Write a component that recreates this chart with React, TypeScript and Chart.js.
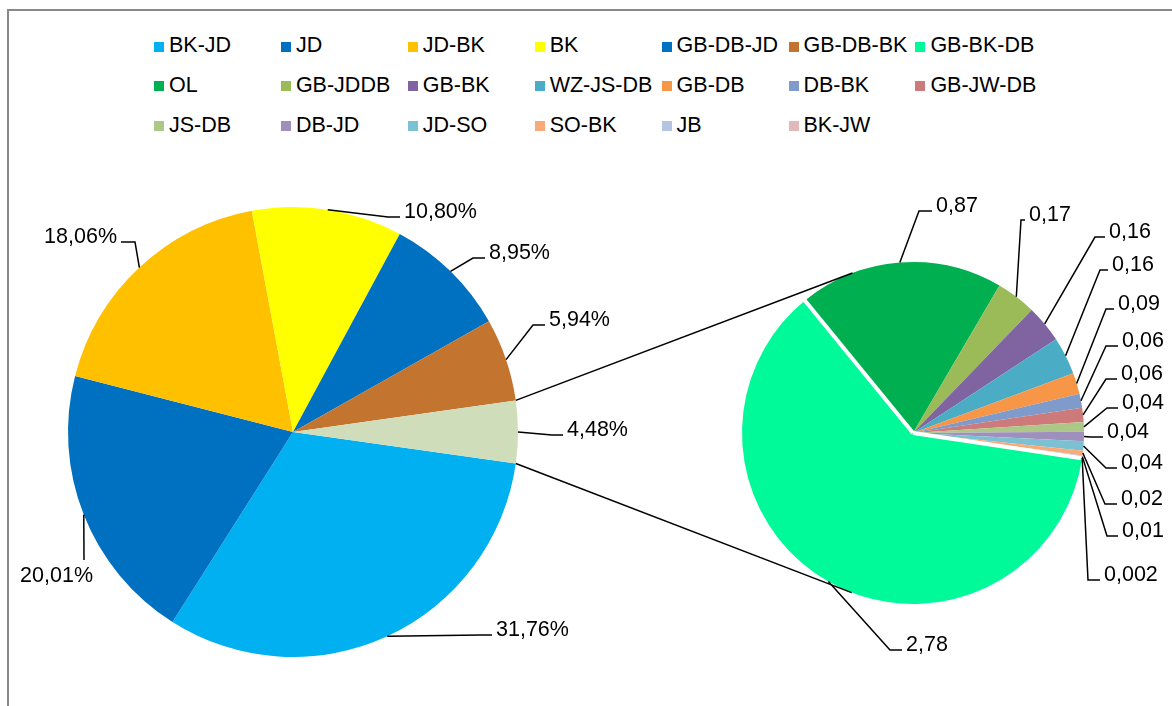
import React, { useEffect, useRef } from "react";
import { Chart, registerables } from "chart.js";
Chart.register(...registerables);

// ---- data ----
const mainCategories = ["BK-JD", "JD", "JD-BK", "BK", "GB-DB-JD", "GB-DB-BK", "Other"];
const mainValues = [31.76, 20.01, 18.06, 10.8, 8.95, 5.94, 4.48];
const mainColors = ["#00B0F0", "#0070C0", "#FFC000", "#FFFF00", "#0070C0", "#C3752F", "#D0DDBA"];

const subCategories = ["GB-BK-DB", "OL", "GB-JDDB", "GB-BK", "WZ-JS-DB", "GB-DB", "DB-BK", "GB-JW-DB", "JS-DB", "DB-JD", "JD-SO", "SO-BK", "JB", "BK-JW"];
const subValues = [2.78, 0.87, 0.17, 0.16, 0.16, 0.09, 0.06, 0.06, 0.04, 0.04, 0.04, 0.02, 0.01, 0.002];
const subColors = ["#00FA9A", "#00B050", "#9BBB59", "#8064A2", "#4BACC6", "#F79646", "#7E9BCB", "#CC7A7A", "#ADC886", "#9E8FBD", "#7CC0D4", "#F8AB78", "#B5C4E1", "#E2B9BA"];

const mainLabelTexts = mainValues.map((v) => v.toFixed(2).replace(".", ",") + "%");
const subLabelTexts = subValues.map((v) => String(v).replace(".", ","));

// ---- layout (label elbows relative to pie centre) ----
type LL = { dx: number; dy: number; side: "left" | "right" | "below"; h: number };
const mainLabelLayout: LL[] = [
  { dx: 188, dy: 203, side: "right", h: 11 },
  { dx: -209, dy: 128, side: "below", h: 9 },
  { dx: -158, dy: -190, side: "left", h: 14 },
  { dx: 95, dy: -215, side: "right", h: 12 },
  { dx: 180, dy: -174, side: "right", h: 12 },
  { dx: 240, dy: -107, side: "right", h: 12 },
  { dx: 259, dy: 3, side: "right", h: 11 },
];
const subLabelLayout: LL[] = [
  { dx: -23, dy: 217, side: "right", h: 12 },
  { dx: 6, dy: -222, side: "right", h: 13 },
  { dx: 108, dy: -213, side: "right", h: 4 },
  { dx: 182, dy: -196, side: "right", h: 10 },
  { dx: 187, dy: -163, side: "right", h: 8 },
  { dx: 193, dy: -124, side: "right", h: 8 },
  { dx: 193, dy: -87, side: "right", h: 12 },
  { dx: 193, dy: -54, side: "right", h: 11 },
  { dx: 194, dy: -25, side: "right", h: 11 },
  { dx: 177, dy: 4, side: "right", h: 13 },
  { dx: 193, dy: 35, side: "right", h: 11 },
  { dx: 192, dy: 71, side: "right", h: 12 },
  { dx: 194, dy: 103, side: "right", h: 11 },
  { dx: 175, dy: 147, side: "right", h: 12 },
];

const FONT_PX = 21.5;
const FONT = `${FONT_PX}px "Liberation Sans", Arial, sans-serif`;
const W = 1172;
const H = 706;

const legendItems = [
  ...mainCategories.slice(0, 6).map((c, i) => ({ label: c, color: mainColors[i] })),
  ...subCategories.map((c, i) => ({ label: c, color: subColors[i] })),
];

function drawLabels(chart: any, layout: LL[], texts: string[]) {
  const ctx = chart.ctx as CanvasRenderingContext2D;
  const arcs = chart.getDatasetMeta(0).data;
  ctx.save();
  ctx.strokeStyle = "#000";
  ctx.fillStyle = "#000";
  ctx.lineWidth = 1.5;
  ctx.font = FONT;
  arcs.forEach((arc: any, i: number) => {
    const L = layout[i];
    if (!L) return;
    const { x, y, startAngle, endAngle, outerRadius } = arc.getProps(["x", "y", "startAngle", "endAngle", "outerRadius"], true);
    const mid = (startAngle + endAngle) / 2;
    const ex = x + Math.cos(mid) * outerRadius;
    const ey = y + Math.sin(mid) * outerRadius;
    const bx = x + L.dx;
    const by = y + L.dy;
    ctx.beginPath();
    ctx.moveTo(ex, ey);
    ctx.lineTo(bx, by);
    if (L.side === "below") {
      ctx.stroke();
      ctx.textAlign = "right";
      ctx.textBaseline = "alphabetic";
      ctx.fillText(texts[i], bx + L.h, by + 22);
    } else {
      const s = L.side === "left" ? -1 : 1;
      const hx = bx + s * L.h;
      ctx.lineTo(hx, by);
      ctx.stroke();
      ctx.textAlign = s < 0 ? "right" : "left";
      ctx.textBaseline = "alphabetic";
      ctx.fillText(texts[i], hx + s * 4, by + 1);
    }
  });
  ctx.restore();
}

function tangent(px: number, py: number, cx: number, cy: number, r: number, sign: number) {
  const dx = cx - px;
  const dy = cy - py;
  const dist = Math.hypot(dx, dy);
  const theta = Math.atan2(dy, dx);
  const alpha = Math.asin(Math.min(1, r / dist));
  const len = Math.sqrt(Math.max(0, dist * dist - r * r));
  const a = theta + sign * alpha;
  return [px + Math.cos(a) * len, py + Math.sin(a) * len];
}

export default function App() {
  const leftRef = useRef<HTMLCanvasElement | null>(null);
  const rightRef = useRef<HTMLCanvasElement | null>(null);

  useEffect(() => {
    if (!leftRef.current || !rightRef.current) return;
    const left = new Chart(leftRef.current, {
      type: "pie",
      data: {
        labels: mainCategories,
        datasets: [{ data: mainValues, backgroundColor: mainColors, borderWidth: 0 }],
      },
      options: {
        responsive: false,
        animation: false,
        devicePixelRatio: 1,
        rotation: 98.06,
        radius: 225,
        layout: { padding: { left: 53, right: W - 533, top: 192, bottom: H - 672 } },
        events: [],
        plugins: { legend: { display: false }, tooltip: { enabled: false } },
      },
      plugins: [
        {
          id: "mainLabels",
          afterDatasetsDraw(chart: any) {
            drawLabels(chart, mainLabelLayout, mainLabelTexts);
          },
        },
      ],
    } as any);

    const right = new Chart(rightRef.current, {
      type: "pie",
      data: {
        labels: subCategories,
        datasets: [{ data: subValues, backgroundColor: subColors, borderWidth: 0 }],
      },
      options: {
        responsive: false,
        animation: false,
        devicePixelRatio: 1,
        rotation: 98.5,
        radius: 171,
        layout: { padding: { left: 733, right: W - 1093, top: 253, bottom: H - 613 } },
        events: [],
        plugins: { legend: { display: false }, tooltip: { enabled: false } },
      },
      plugins: [
        {
          id: "subLabels",
          afterDatasetsDraw(chart: any) {
            const ctx = chart.ctx as CanvasRenderingContext2D;
            const arc0 = chart.getDatasetMeta(0).data[0];
            const { x, y, startAngle, endAngle, outerRadius } = arc0.getProps(["x", "y", "startAngle", "endAngle", "outerRadius"], true);
            ctx.save();
            ctx.strokeStyle = "#fff";
            ctx.lineWidth = 4;
            [startAngle, endAngle].forEach((a: number) => {
              ctx.beginPath();
              ctx.moveTo(x, y);
              ctx.lineTo(x + Math.cos(a) * (outerRadius + 3), y + Math.sin(a) * (outerRadius + 3));
              ctx.stroke();
            });
            ctx.restore();
            drawLabels(chart, subLabelLayout, subLabelTexts);
          },
          afterDraw(chart: any) {
            const ctx = chart.ctx as CanvasRenderingContext2D;
            const lmeta = left.getDatasetMeta(0).data;
            const other: any = lmeta[lmeta.length - 1];
            const o = other.getProps(["x", "y", "startAngle", "endAngle", "outerRadius"], true);
            const r0: any = chart.getDatasetMeta(0).data[0];
            const c = r0.getProps(["x", "y", "outerRadius"], true);
            const p1 = [o.x + Math.cos(o.startAngle) * o.outerRadius, o.y + Math.sin(o.startAngle) * o.outerRadius];
            const p2 = [o.x + Math.cos(o.endAngle) * o.outerRadius, o.y + Math.sin(o.endAngle) * o.outerRadius];
            const t1 = tangent(p1[0], p1[1], c.x, c.y, c.outerRadius, -1);
            const t2 = tangent(p2[0], p2[1], c.x, c.y, c.outerRadius, 1);
            ctx.save();
            ctx.strokeStyle = "#000";
            ctx.lineWidth = 1.5;
            ctx.beginPath();
            ctx.moveTo(p1[0], p1[1]);
            ctx.lineTo(t1[0], t1[1]);
            ctx.moveTo(p2[0], p2[1]);
            ctx.lineTo(t2[0], t2[1]);
            ctx.stroke();
            ctx.restore();
          },
        },
      ],
    } as any);

    return () => {
      right.destroy();
      left.destroy();
    };
  }, []);

  const canvasStyle: React.CSSProperties = { position: "absolute", left: 0, top: 0, width: W, height: H };

  return (
    <div style={{ position: "fixed", left: 0, top: 0, width: W, height: H, overflow: "hidden", background: "#fff" }}>
      <div style={{ position: "absolute", left: 7, top: 9, width: 1400, height: 900, border: "2px solid #888" }} />
      {legendItems.map((it, i) => {
        const col = i % 7;
        const row = Math.floor(i / 7);
        const lx = 154 + col * 126.9;
        const ly = 41.7 + row * 39.7;
        return (
          <React.Fragment key={it.label}>
            <div style={{ position: "absolute", left: lx, top: ly, width: 10, height: 10, background: it.color }} />
            <div
              style={{
                position: "absolute",
                left: lx + 15,
                top: ly - 6.6,
                font: FONT,
                lineHeight: `${FONT_PX}px`,
                color: "#000",
                whiteSpace: "nowrap",
              }}
            >
              {it.label}
            </div>
          </React.Fragment>
        );
      })}
      <canvas ref={leftRef} width={W} height={H} style={canvasStyle} />
      <canvas ref={rightRef} width={W} height={H} style={canvasStyle} />
    </div>
  );
}
